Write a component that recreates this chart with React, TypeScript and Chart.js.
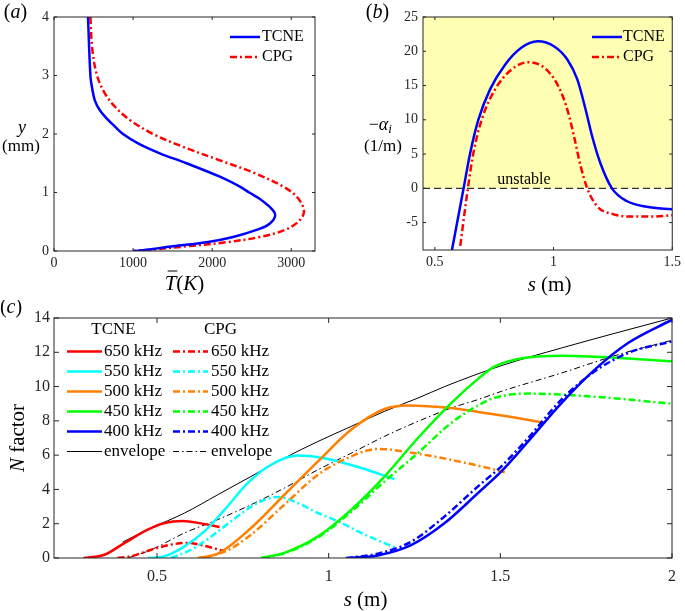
import { useEffect, useRef } from "react"
import { Chart, registerables } from "chart.js"

Chart.register(...registerables)

const SERIF = "'Liberation Serif', 'Times New Roman', serif"
const AXIS = "#262626"

// (a) mean temperature profiles, T in K against y in mm
const tcneProfileY = [4, 3, 2.8, 2.58, 2.41, 2.24, 2.13, 2.0, 1.84, 1.67, 1.5, 1.27, 1.1, 1.0, 0.87, 0.64, 0.47, 0.36, 0.24, 0.15, 0.08, 0.02, 0]
const tcneProfileT = [430, 460, 480, 515, 578, 684, 768, 873, 1063, 1338, 1675, 2097, 2350, 2468, 2624, 2793, 2730, 2561, 2266, 1928, 1506, 1169, 1000]
const cpgProfileY = [4, 3.44, 3.0, 2.7, 2.47, 2.24, 2.0, 1.78, 1.55, 1.33, 1.1, 0.93, 0.7, 0.53, 0.36, 0.24, 0.15, 0.08, 0.02, 0]
const cpgProfileT = [460, 485, 544, 641, 768, 958, 1253, 1633, 2097, 2540, 2899, 3068, 3160, 3110, 2920, 2603, 2181, 1675, 1211, 1000]
const profileTTicks = [0, 1000, 2000, 3000]
const profileYTicks = [0, 1, 2, 3, 4]

// (b) growth rate -alpha_i (1/m) against s (m)
const tcneGrowthS = [0.572, 0.621, 0.649, 0.683, 0.732, 0.795, 0.864, 0.933, 1.003, 1.058, 1.1, 1.135, 1.1625, 1.197, 1.246, 1.308, 1.392, 1.5]
const tcneGrowth = [-9, 0, 5.2, 10, 14.4, 18, 20.5, 21.45, 20.7, 18.8, 15.9, 11.5, 7.6, 3.7, 0, -1.85, -2.7, -3.06]
const cpgGrowthS = [0.607, 0.639, 0.6625, 0.697, 0.753, 0.822, 0.892, 0.961, 1.017, 1.058, 1.086, 1.114, 1.142, 1.183, 1.253, 1.336, 1.42, 1.5]
const cpgGrowth = [-8.4, 0, 5.2, 10, 14.4, 17.3, 18.4, 17.6, 15.1, 11.5, 7.6, 3.25, 0, -2.6, -3.8, -4.12, -4.12, -3.93]
const growthSTicks = [0.5, 1, 1.5]
const growthTicks = [-5, 0, 5, 10, 15, 20, 25]

// (c) N factor against s (m)
const frequencies = ["650 kHz", "550 kHz", "500 kHz", "450 kHz", "400 kHz"]
const tcne650S = [0.286, 0.347, 0.405, 0.473, 0.522, 0.575, 0.628, 0.682]
const tcne650N = [0, 0.19, 0.87, 1.65, 2.04, 2.16, 2.02, 1.81]
const cpg650S = [0.385, 0.424, 0.483, 0.541, 0.59, 0.64, 0.696]
const cpg650N = [0, 0.1, 0.48, 0.78, 0.88, 0.7, 0.4]
const tcne550S = [0.473, 0.522, 0.58, 0.638, 0.697, 0.764, 0.832, 0.91, 0.998, 1.095, 1.192]
const tcne550N = [0, 0.1, 0.68, 1.55, 2.82, 4.37, 5.44, 5.98, 5.78, 5.25, 4.6]
const cpg550S = [0.541, 0.599, 0.657, 0.735, 0.793, 0.852, 0.91, 0.968, 1.027, 1.095, 1.197]
const cpg550N = [0, 0.48, 1.24, 2.43, 3.21, 3.56, 3.21, 2.63, 2.14, 1.46, 0.58]
const tcne500S = [0.619, 0.677, 0.774, 0.871, 0.969, 1.066, 1.163, 1.231, 1.357, 1.435, 1.524, 1.624]
const tcne500N = [0, 0.25, 1.75, 3.69, 5.64, 7.49, 8.69, 8.9, 8.75, 8.52, 8.25, 7.91]
const cpg500S = [0.64, 0.706, 0.774, 0.871, 0.969, 1.066, 1.143, 1.26, 1.435, 1.513]
const cpg500N = [0, 0.45, 1.36, 3.11, 4.86, 5.93, 6.36, 6.08, 5.39, 5.0]
const tcne450S = [0.803, 0.871, 0.969, 1.066, 1.163, 1.26, 1.357, 1.435, 1.484, 1.581, 1.678, 1.824, 2.0]
const tcne450N = [0, 0.3, 1.26, 2.82, 4.76, 7.0, 9.04, 10.45, 11.18, 11.7, 11.8, 11.7, 11.47]
const cpg450S = [0.808, 0.871, 0.969, 1.066, 1.163, 1.26, 1.357, 1.435, 1.484, 1.581, 1.678, 1.824, 2.0]
const cpg450N = [0, 0.28, 1.2, 2.7, 4.47, 6.12, 7.88, 8.9, 9.35, 9.59, 9.53, 9.33, 9.0]
const tcne400S = [1.065, 1.143, 1.24, 1.338, 1.435, 1.503, 1.581, 1.678, 1.775, 1.872, 2.0]
const tcne400N = [0, 0.15, 0.75, 2.04, 3.79, 5.05, 6.8, 9.04, 10.99, 12.54, 13.9]
const cpg400S = [1.05, 1.143, 1.24, 1.338, 1.435, 1.503, 1.581, 1.678, 1.775, 1.872, 2.0]
const cpg400N = [0, 0.25, 0.95, 2.43, 4.18, 5.35, 7.0, 9.24, 10.89, 11.96, 12.64]
const tcneEnvS = [0.4, 0.483, 0.58, 0.677, 0.774, 0.871, 0.969, 1.066, 1.163, 1.26, 1.338, 1.503, 1.678, 1.843, 2.0]
const tcneEnvN = [0.93, 1.75, 2.62, 3.69, 4.76, 5.83, 6.8, 7.68, 8.56, 9.33, 10.0, 11.22, 12.25, 13.16, 14.0]
const cpgEnvS = [0.415, 0.483, 0.58, 0.677, 0.774, 0.871, 0.969, 1.066, 1.163, 1.26, 1.357, 1.435, 1.503, 1.678, 1.843, 2.0]
const cpgEnvN = [0, 0.48, 1.46, 2.24, 3.11, 4.08, 5.15, 6.12, 7.1, 7.97, 8.75, 9.24, 9.72, 10.79, 11.86, 12.7]
const nSTicks = [0.5, 1, 1.5, 2]
const nTicks = [0, 2, 4, 6, 8, 10, 12, 14]

const freqColors = ["#ff0000", "#00ffff", "#ff8000", "#00ff00", "#0000ff"]
const DASHDOT = [7, 3, 2, 3]
const ENV_DASHDOT = [6, 3, 1.5, 3]

const pts = (xs: number[], ys: number[]) => xs.map((x, i) => ({ x, y: ys[i] }))

type Run = [string, boolean]

// draws text made of upright / italic runs, returns left x
function rich(ctx: CanvasRenderingContext2D, runs: Run[], x: number, y: number, size: number, align = "center") {
  ctx.save()
  ctx.textBaseline = "middle"
  ctx.textAlign = "left"
  ctx.fillStyle = "#000"
  const widths = runs.map(([t, it]) => {
    ctx.font = `${it ? "italic " : ""}${size}px ${SERIF}`
    return ctx.measureText(t).width
  })
  const total = widths.reduce((a, b) => a + b, 0)
  const left = align === "center" ? x - total / 2 : x
  let cx = left
  runs.forEach(([t, it], i) => {
    ctx.font = `${it ? "italic " : ""}${size}px ${SERIF}`
    ctx.fillText(t, cx, y)
    cx += widths[i]
  })
  ctx.restore()
  return { left, widths }
}

function legendLine(ctx: CanvasRenderingContext2D, x1: number, x2: number, y: number, color: string, width: number, dash: number[]) {
  ctx.save()
  ctx.strokeStyle = color
  ctx.lineWidth = width
  ctx.setLineDash(dash)
  ctx.beginPath()
  ctx.moveTo(x1, y)
  ctx.lineTo(x2, y)
  ctx.stroke()
  ctx.restore()
}

function framePlugin(tick: number) {
  return {
    id: "frame",
    afterDatasetsDraw(chart: any) {
      const { ctx, chartArea: a, scales } = chart
      ctx.save()
      ctx.strokeStyle = AXIS
      ctx.lineWidth = 1
      ctx.setLineDash([])
      ctx.strokeRect(a.left, a.top, a.right - a.left, a.bottom - a.top)
      ctx.beginPath()
      scales.x.ticks.forEach((t: any) => {
        const px = scales.x.getPixelForValue(t.value)
        ctx.moveTo(px, a.bottom)
        ctx.lineTo(px, a.bottom - tick)
        ctx.moveTo(px, a.top)
        ctx.lineTo(px, a.top + tick)
      })
      scales.y.ticks.forEach((t: any) => {
        const py = scales.y.getPixelForValue(t.value)
        ctx.moveTo(a.left, py)
        ctx.lineTo(a.left + tick, py)
        ctx.moveTo(a.right, py)
        ctx.lineTo(a.right - tick, py)
      })
      ctx.stroke()
      ctx.restore()
    },
  }
}

function axis(min: number, max: number, values: number[], size: number, padding: number, fit: { width?: number; height?: number }) {
  return {
    type: "linear",
    min,
    max,
    grid: { display: false, drawTicks: false },
    border: { display: false },
    ticks: {
      color: AXIS,
      font: { family: SERIF, size },
      padding,
      maxRotation: 0,
      autoSkip: false,
      callback: (v: number) => String(v),
    },
    afterBuildTicks: (s: any) => {
      s.ticks = values.map((v) => ({ value: v }))
    },
    afterFit: (s: any) => {
      if (fit.width != null) s.width = fit.width
      if (fit.height != null) s.height = fit.height
    },
  }
}

const baseOptions = {
  responsive: false,
  animation: false,
  events: [],
  plugins: { legend: { display: false }, tooltip: { enabled: false } },
  elements: { point: { radius: 0 } },
}

function profileConfig(): any {
  return {
    type: "line",
    data: {
      datasets: [
        { data: pts(tcneProfileT, tcneProfileY), borderColor: "#0000ff", borderWidth: 2.5, tension: 0.35, fill: false },
        { data: pts(cpgProfileT, cpgProfileY), borderColor: "#ff0000", borderWidth: 2.5, borderDash: DASHDOT, tension: 0.35, fill: false },
      ],
    },
    options: {
      ...baseOptions,
      layout: { padding: { left: 0, top: 17, right: 25, bottom: 0 } },
      scales: {
        x: axis(0, 3300, profileTTicks, 14, 4, { height: 49 }),
        y: axis(0, 4, profileYTicks, 14, 5, { width: 54 }),
      },
    },
    plugins: [
      framePlugin(3),
      {
        id: "labelsA",
        afterDraw(chart: any) {
          const ctx = chart.ctx
          rich(ctx, [["(", false], ["a", true], [")", false]], 15.5, 12.5, 20)
          rich(ctx, [["y", true]], 22, 128, 18)
          rich(ctx, [["(mm)", false]], 21, 147, 17)
          const t = rich(ctx, [["T", true], ["(", false], ["K", true], [")", false]], 184.5, 284, 21)
          legendLine(ctx, t.left + 3, t.left + t.widths[0] + 1, 271, "#000", 1, [])
          legendLine(ctx, 230, 260, 37, "#0000ff", 2.5, [])
          legendLine(ctx, 230, 260, 57, "#ff0000", 2.5, DASHDOT)
          rich(ctx, [["TCNE", false]], 262, 37, 16, "left")
          rich(ctx, [["CPG", false]], 262, 57, 16, "left")
        },
      },
    ],
  }
}

function growthConfig(): any {
  return {
    type: "line",
    data: {
      datasets: [
        { data: pts(tcneGrowthS, tcneGrowth), borderColor: "#0000ff", borderWidth: 2.5, cubicInterpolationMode: "monotone", fill: false, order: 0 },
        { data: pts(cpgGrowthS, cpgGrowth), borderColor: "#ff0000", borderWidth: 2.5, borderDash: DASHDOT, cubicInterpolationMode: "monotone", fill: false, order: 1 },
        { data: [{ x: 0.45, y: 0 }, { x: 1.5, y: 0 }], borderColor: "#000", borderWidth: 1, borderDash: [7, 4], fill: false, order: 5 },
        { data: [{ x: 0.45, y: 25 }, { x: 1.5, y: 25 }], borderWidth: 0, borderColor: "rgba(0,0,0,0)", backgroundColor: "#ffffb3", fill: { value: 0 }, order: 10 },
      ],
    },
    options: {
      ...baseOptions,
      layout: { padding: { left: 0, top: 17, right: 9, bottom: 0 } },
      scales: {
        x: axis(0.45, 1.5, growthSTicks, 14, 4, { height: 50 }),
        y: axis(-9, 25, growthTicks, 14, 5, { width: 83 }),
      },
    },
    plugins: [
      framePlugin(3),
      {
        id: "labelsB",
        afterDraw(chart: any) {
          const ctx = chart.ctx
          rich(ctx, [["(", false], ["b", true], [")", false]], 37.5, 12.5, 20)
          const a = rich(ctx, [["\u2212", false], ["\u03b1", true], ["  ", false]], 43, 125, 18)
          rich(ctx, [["i", true]], a.left + a.widths[0] + a.widths[1], 130, 13, "left")
          rich(ctx, [["(1/m)", false]], 43, 147, 17)
          rich(ctx, [["s", true], [" (m)", false]], 209.5, 285, 21)
          rich(ctx, [["unstable", false]], 184, 180, 16)
          legendLine(ctx, 252, 282, 37, "#0000ff", 2.5, [])
          legendLine(ctx, 252, 282, 57, "#ff0000", 2.5, DASHDOT)
          rich(ctx, [["TCNE", false]], 283, 37, 16, "left")
          rich(ctx, [["CPG", false]], 283, 57, 16, "left")
        },
      },
    ],
  }
}

function nFactorConfig(): any {
  const tcne = [pts(tcne650S, tcne650N), pts(tcne550S, tcne550N), pts(tcne500S, tcne500N), pts(tcne450S, tcne450N), pts(tcne400S, tcne400N)]
  const cpg = [pts(cpg650S, cpg650N), pts(cpg550S, cpg550N), pts(cpg500S, cpg500N), pts(cpg450S, cpg450N), pts(cpg400S, cpg400N)]
  const datasets: any[] = []
  for (let i = frequencies.length - 1; i >= 0; i--) {
    datasets.push({ data: tcne[i], borderColor: freqColors[i], borderWidth: 2.5, cubicInterpolationMode: "monotone", fill: false })
    datasets.push({ data: cpg[i], borderColor: freqColors[i], borderWidth: 2.5, borderDash: DASHDOT, cubicInterpolationMode: "monotone", fill: false })
  }
  datasets.push({ data: pts(tcneEnvS, tcneEnvN), borderColor: "#000", borderWidth: 1, cubicInterpolationMode: "monotone", fill: false })
  datasets.push({ data: pts(cpgEnvS, cpgEnvN), borderColor: "#000", borderWidth: 1, borderDash: ENV_DASHDOT, cubicInterpolationMode: "monotone", fill: false })
  return {
    type: "line",
    data: { datasets },
    options: {
      ...baseOptions,
      layout: { padding: { left: 0, top: 18, right: 8, bottom: 0 } },
      scales: {
        x: axis(0.2, 2, nSTicks, 16, 9, { height: 53 }),
        y: axis(0, 14, nTicks, 16, 4, { width: 54 }),
      },
    },
    plugins: [
      framePlugin(5),
      {
        id: "labelsC",
        afterDraw(chart: any) {
          const ctx = chart.ctx
          rich(ctx, [["(", false], ["c", true], [")", false]], 11, 8, 20)
          rich(ctx, [["s", true], [" (m)", false]], 365.5, 300, 21)
          ctx.save()
          ctx.translate(18, 138)
          ctx.rotate(-Math.PI / 2)
          rich(ctx, [["N", true], [" factor", false]], 0, 0, 21)
          ctx.restore()
          rich(ctx, [["TCNE", false]], 113.5, 30, 17)
          rich(ctx, [["CPG", false]], 220.5, 30, 17)
          frequencies.forEach((f, i) => {
            const y = 51.5 + 20 * i
            legendLine(ctx, 67, 102, y, freqColors[i], 2.5, [])
            legendLine(ctx, 173, 208, y, freqColors[i], 2.5, DASHDOT)
            rich(ctx, [[f, false]], 104, y, 17, "left")
            rich(ctx, [[f, false]], 211, y, 17, "left")
          })
          const ey = 51.5 + 20 * frequencies.length
          legendLine(ctx, 67, 102, ey, "#000", 1, [])
          legendLine(ctx, 173, 208, ey, "#000", 1, ENV_DASHDOT)
          rich(ctx, [["envelope", false]], 104, ey, 17, "left")
          rich(ctx, [["envelope", false]], 211, ey, 17, "left")
        },
      },
    ],
  }
}

function Panel({ config, left, top, width, height }: { config: () => any; left: number; top: number; width: number; height: number }) {
  const ref = useRef<HTMLCanvasElement>(null)
  useEffect(() => {
    if (!ref.current) return
    const chart = new Chart(ref.current, config())
    return () => chart.destroy()
  }, [config])
  return <canvas ref={ref} width={width} height={height} style={{ position: "absolute", left, top, width, height }} />
}

export default function App() {
  return (
    <div style={{ position: "absolute", left: 0, top: 0, width: 685, height: 611, background: "#fff" }}>
      <Panel config={profileConfig} left={0} top={0} width={340} height={300} />
      <Panel config={growthConfig} left={340} top={0} width={345} height={300} />
      <Panel config={nFactorConfig} left={0} top={300} width={685} height={311} />
    </div>
  )
}
